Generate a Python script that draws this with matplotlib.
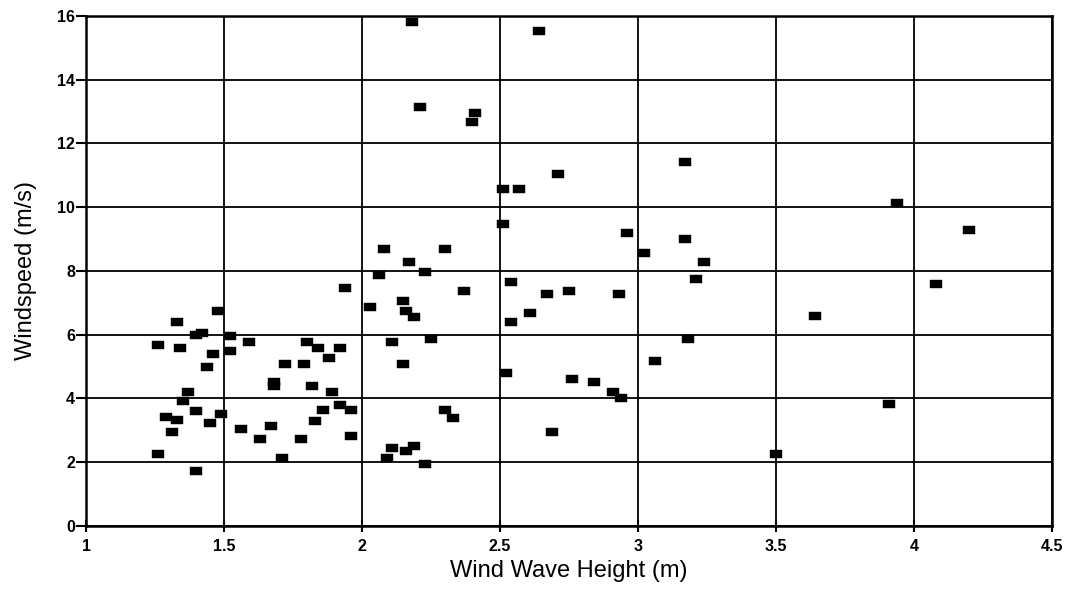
import matplotlib
matplotlib.use('Agg')
import matplotlib.pyplot as plt

# wind wave height (m) / windspeed (m/s)
wave_low = [1.94, 2.03, 2.06, 1.48, 1.33, 1.40, 1.42, 1.52, 1.26, 1.34,
            1.46, 1.52, 1.59, 1.44, 1.80, 1.84, 1.92, 1.88, 1.72, 1.79,
            1.68, 1.68, 1.82, 1.37, 1.89, 1.35, 1.92, 1.96, 1.86, 1.83,
            1.40, 1.49, 1.29, 1.33, 1.45, 1.31, 1.56, 1.67, 1.63, 1.78,
            1.96, 1.26, 1.71, 1.40]
wind_low = [7.46, 6.86, 7.86, 6.75, 6.38, 5.97, 6.05, 5.96, 5.66, 5.57,
            5.39, 5.48, 5.78, 4.97, 5.78, 5.57, 5.57, 5.25, 5.07, 5.07,
            4.51, 4.38, 4.37, 4.19, 4.19, 3.91, 3.80, 3.62, 3.62, 3.30,
            3.60, 3.49, 3.40, 3.31, 3.21, 2.93, 3.02, 3.12, 2.73, 2.73,
            2.83, 2.24, 2.13, 1.71]

wave_mid = [2.18, 2.64, 2.21, 2.41, 2.40, 2.71, 2.51, 2.57, 2.51, 2.96,
            2.08, 2.30, 3.02, 2.17, 2.23, 2.37, 2.54, 2.67, 2.75, 2.93,
            2.15, 2.16, 2.19, 2.61, 2.54, 2.11, 2.25, 2.15, 3.06, 2.52,
            2.76, 2.84, 2.91, 2.94, 2.30, 2.33, 2.69, 2.11, 2.19, 2.16,
            2.09, 2.23]
wind_mid = [15.82, 15.52, 13.13, 12.95, 12.66, 11.03, 10.58, 10.58, 9.47, 9.19,
            8.67, 8.67, 8.57, 8.27, 7.95, 7.37, 7.66, 7.28, 7.37, 7.28,
            7.05, 6.75, 6.55, 6.67, 6.39, 5.77, 5.86, 5.07, 5.17, 4.79,
            4.59, 4.52, 4.20, 4.01, 3.62, 3.39, 2.93, 2.44, 2.51, 2.33,
            2.12, 1.93]

wave_high = [3.17, 3.94, 4.20, 3.17, 3.24, 3.21, 4.08, 3.64, 3.18, 3.91, 3.50]
wind_high = [11.42, 10.13, 9.29, 8.99, 8.28, 7.73, 7.59, 6.57, 5.86, 3.83, 2.25]

wave = wave_low + wave_mid + wave_high
wind = wind_low + wind_mid + wind_high

x_ticks = [1, 1.5, 2, 2.5, 3, 3.5, 4, 4.5]
x_labels = ['1', '1.5', '2', '2.5', '3', '3.5', '4', '4.5']
y_ticks = [0, 2, 4, 6, 8, 10, 12, 14, 16]

plt.rcParams['font.family'] = ['Liberation Sans', 'DejaVu Sans']

fig = plt.figure(figsize=(10.71, 5.90), dpi=100)
ax = fig.add_axes([0.0803, 0.109, 0.902, 0.864])

# flat rectangular marker like the original
rect = [(-1, -0.68), (1, -0.68), (1, 0.68), (-1, 0.68), (-1, -0.68)]
ax.scatter(wave, wind, marker=rect, s=64, color='black', linewidths=0.3,
           edgecolors='black', zorder=3)

ax.set_xlim(1, 4.5)
ax.set_ylim(0, 16)
ax.set_xticks(x_ticks)
ax.set_xticklabels(x_labels)
ax.set_yticks(y_ticks)

ax.grid(True, color='black', linewidth=1.3, linestyle='-')
ax.set_axisbelow(True)
for s in ax.spines.values():
    s.set_linewidth(1.8)
    s.set_color('black')

ax.tick_params(axis='x', direction='inout', length=9, width=1.5, pad=5,
               labelsize=11.5)
ax.tick_params(axis='y', direction='out', length=7, width=1.5, pad=1,
               labelsize=11.5)
for lbl in ax.get_xticklabels() + ax.get_yticklabels():
    lbl.set_fontweight('bold')

ax.set_xlabel('Wind Wave Height (m)', fontsize=17)
ax.set_ylabel('Windspeed (m/s)', fontsize=17)
ax.xaxis.set_label_coords(0.5, -0.067)
ax.yaxis.set_label_coords(-0.051, 0.5)

fig.savefig('out.png', dpi=100)
